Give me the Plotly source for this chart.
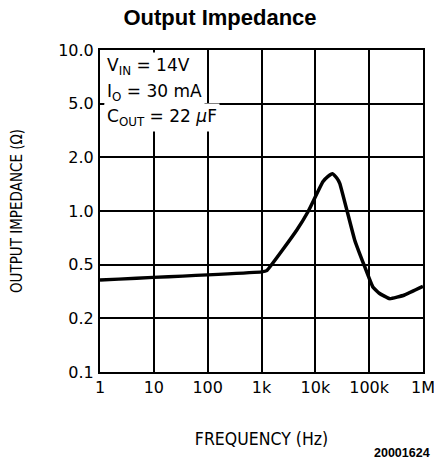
import numpy as np
import plotly.graph_objects as go

# Data
freq_hz = [1, 1000, 1250, 4500, 7300, 13800, 17000, 20800, 25000, 28400, 53800, 82600, 117000, 154000, 240000, 454000, 1000000]
impedance_ohm = [0.385, 0.442, 0.452, 0.78, 0.99, 1.46, 1.56, 1.62, 1.53, 1.43, 0.688, 0.483, 0.342, 0.307, 0.280, 0.298, 0.345]

y_tick_values = [0.1, 0.2, 0.5, 1.0, 2.0, 5.0, 10.0]
y_tick_labels = ["0.1", "0.2", "0.5", "1.0", "2.0", "5.0", "10.0"]
x_tick_values = [1, 10, 100, 1000, 10000, 100000, 1000000]
x_tick_labels = ["1", "10", "100", "1k", "10k", "100k", "1M"]

# The chart's y grid is evenly spaced at 0.1/0.2/0.5/1/2/5/10
y_idx = list(range(len(y_tick_values)))
y_pos = np.interp(np.log10(impedance_ohm), np.log10(y_tick_values), y_idx)

font_reg = "DejaVu Sans"
font_cond = "DejaVu Sans Condensed, DejaVu Sans"

fig = go.Figure()
fig.add_trace(go.Scatter(
    x=freq_hz, y=y_pos, mode="lines",
    line=dict(color="black", width=3.5, shape="spline", smoothing=0.35),
    hoverinfo="skip", showlegend=False,
))

fig.update_layout(
    width=434, height=472,
    margin=dict(l=99.5, r=10.5, t=50, b=100),
    paper_bgcolor="white", plot_bgcolor="white",
    title=dict(text="<b>Output Impedance</b>", xref="container", yref="container",
               x=220 / 434, xanchor="center", y=1 - 17 / 472, yanchor="middle",
               font=dict(family="Liberation Sans", size=22, color="black"), automargin=False),
    xaxis=dict(type="log", range=[0, 6], tickvals=x_tick_values, ticktext=x_tick_labels,
               showgrid=True, gridcolor="black", gridwidth=1.5,
               showline=True, linecolor="black", linewidth=2, mirror=True,
               ticks="", ticklabelstandoff=0, automargin=False, ticklabeloverflow="allow",
               tickfont=dict(family=font_reg, size=16, color="black"),
               title=dict(text="FREQUENCY (Hz)", font=dict(family=font_cond, size=17.5, color="black"), standoff=37),
               zeroline=False, fixedrange=True),
    yaxis=dict(range=[0, 6], tickvals=y_idx, ticktext=y_tick_labels,
               showgrid=True, gridcolor="black", gridwidth=1.5,
               showline=True, linecolor="black", linewidth=2, mirror=True,
               ticks="", ticklabelstandoff=1, automargin=False,
               tickfont=dict(family=font_reg, size=16, color="black"),
               title=dict(text="OUTPUT IMPEDANCE (Ω)", font=dict(family=font_cond, size=15, color="black"), standoff=32),
               zeroline=False, fixedrange=True),
)

notes = ["V<sub>IN</sub> = 14V", "I<sub>O</sub> = 30 mA", "C<sub>OUT</sub> = 22 <i>μ</i>F"]
note_y_px = [66, 92, 118]
for txt, ypx in zip(notes, note_y_px):
    fig.add_annotation(text=txt, xref="paper", yref="paper", x=0.012, y=1 - (ypx - 50) / 322,
                       xanchor="left", yanchor="middle", showarrow=False,
                       bgcolor="white", borderpad=2,
                       font=dict(family=font_reg, size=17, color="black"))

fig.add_annotation(text="<b>20001624</b>", xref="paper", yref="paper", x=1.0, y=-(453 - 372) / 322,
                   xanchor="right", yanchor="middle", showarrow=False, xshift=9,
                   font=dict(family="Liberation Sans", size=12.5, color="black"))

fig.write_html("out.html", config={"displayModeBar": False},
               post_script="document.body.style.margin='0';")
